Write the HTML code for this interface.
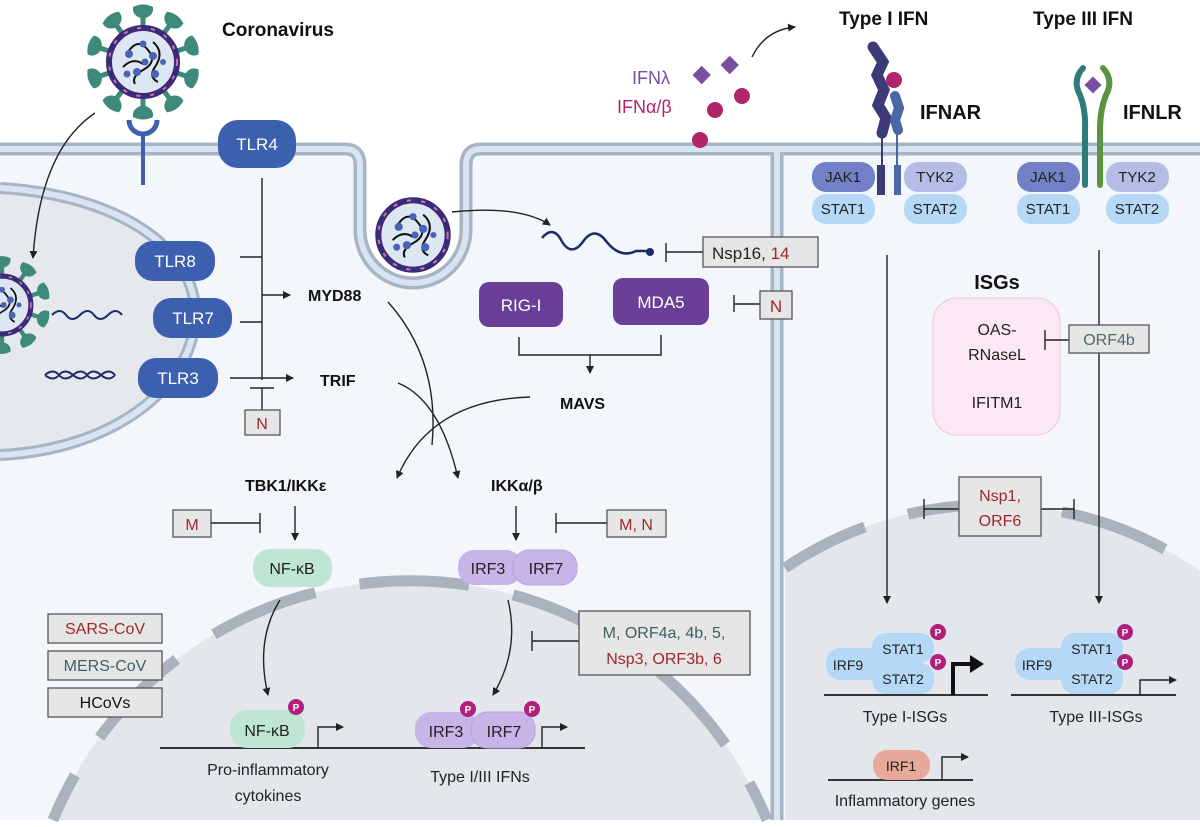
<!DOCTYPE html>
<html><head><meta charset="utf-8"><style>
html,body{margin:0;padding:0;background:#fff;overflow:hidden;width:1200px;height:827px}
svg{display:block;overflow:hidden}
text{font-family:"Liberation Sans",sans-serif}
.b{font-weight:bold;fill:#111}
.w{fill:#fff;font-size:17px}
.k{fill:#222;font-size:16px}
.red{fill:#a0282a}
.tl{fill:#3f6060}
.ln{stroke:#222;stroke-width:1.4;fill:none}
.bx{fill:#e6e6e6;stroke:#555;stroke-width:1.3}
</style></head><body>
<svg width="1200" height="827" viewBox="0 0 1200 827" xmlns="http://www.w3.org/2000/svg">
<defs>
<clipPath id="cp"><rect x="0" y="0" width="1200" height="827"/></clipPath>
<marker id="a" markerWidth="8" markerHeight="8" refX="7" refY="4" orient="auto" markerUnits="userSpaceOnUse"><path d="M0,0 L8,4 L0,8 Z" fill="#222"/></marker>
<path id="sp" d="M-2.5,0 L-2.5,-8 Q-11,-11 -10,-19 Q0,-24 10,-19 Q11,-11 2.5,-8 L2.5,0 Z" fill="#3e8a78"/>
<g id="core">
<circle r="34" fill="#dde7f2" stroke="#3b2a78" stroke-width="6"/>
<circle r="34" fill="none" stroke="#c678b0" stroke-width="2" stroke-dasharray="4 10"/>
<path d="M-15,-10 Q-5,-25 5,-12 Q15,0 0,8 Q-12,15 -8,22 M10,-20 Q22,-10 12,5 Q5,15 15,20 M-20,5 Q-10,-5 0,2" stroke="#111" stroke-width="2" fill="none"/>
<g fill="#4a62b8"><circle cx="-14" cy="-8" r="4"/><circle cx="-6" cy="10" r="4"/><circle cx="10" cy="-6" r="4"/><circle cx="12" cy="12" r="4"/><circle cx="-16" cy="12" r="3.5"/><circle cx="0" cy="-18" r="3.5"/><circle cx="2" cy="0" r="3.5"/><circle cx="20" cy="0" r="3"/></g>
</g>
<g id="vir">
<use href="#sp" transform="rotate(0) translate(0,-36)"/><use href="#sp" transform="rotate(36) translate(0,-36)"/><use href="#sp" transform="rotate(72) translate(0,-36)"/><use href="#sp" transform="rotate(108) translate(0,-36)"/><use href="#sp" transform="rotate(144) translate(0,-36)"/><use href="#sp" transform="rotate(180) translate(0,-36)"/><use href="#sp" transform="rotate(216) translate(0,-36)"/><use href="#sp" transform="rotate(252) translate(0,-36)"/><use href="#sp" transform="rotate(288) translate(0,-36)"/><use href="#sp" transform="rotate(324) translate(0,-36)"/>
<use href="#core"/>
</g>
</defs>
<g clip-path="url(#cp)">
<path d="M0,153 H360 V230 A53,53 0 0 0 466,230 V153 H1200 V820 H0 Z" fill="#f3f6fa"/>
<path d="M0,188 C120,195 200,250 195,320 C190,390 110,450 0,455 Z" fill="#e5e9ee"/>
<path d="M0,188 C120,195 200,250 195,320 C190,390 110,450 0,455" fill="none" stroke="#a9b4c2" stroke-width="12"/>
<path d="M0,188 C120,195 200,250 195,320 C190,390 110,450 0,455" fill="none" stroke="#d6e4f3" stroke-width="6"/>
<path d="M53,820 A386,386 0 0 1 767,820 Z" fill="#e3e6eb"/>
<path d="M53,820 A386,386 0 0 1 767,820" fill="none" stroke="#aab2bd" stroke-width="11" stroke-dasharray="110 45" stroke-dashoffset="60"/>
<path d="M785,820 V568 A365,365 0 0 1 1200,571 V820 Z" fill="#e3e6eb"/>
<path d="M785,568 A365,365 0 0 1 1200,571" fill="none" stroke="#aab2bd" stroke-width="11" stroke-dasharray="110 45" stroke-dashoffset="20"/>
<path d="M0,149 H345 Q360,149 360,165 V230 A53,53 0 0 0 466,230 V165 Q466,149 481,149 H1200 M777,149 V820" fill="none" stroke="#a9b4c2" stroke-width="13"/>
<path d="M0,149 H345 Q360,149 360,165 V230 A53,53 0 0 0 466,230 V165 Q466,149 481,149 H1200 M777,149 V820" fill="none" stroke="#d6e4f3" stroke-width="6"/>

<use href="#vir" transform="translate(143,62)"/>
<path d="M129,120 A14,14 0 0 0 157,120" fill="none" stroke="#3d5fb0" stroke-width="5"/>
<line x1="143" y1="134" x2="143" y2="185" stroke="#3d5fb0" stroke-width="4"/>
<use href="#vir" transform="translate(2,305) scale(0.85)"/>
<use href="#core" transform="translate(413,235) scale(1.02)"/>
<path d="M95,113 Q40,150 33,258" class="ln" marker-end="url(#a)"/>
<path d="M452,212 Q520,205 550,225" class="ln" marker-end="url(#a)"/>
<text x="222" y="36" class="b" font-size="19">Coronavirus</text>

<g font-size="17">
<rect x="218" y="120" width="78" height="48" rx="20" fill="#3d5fb0"/><text x="257" y="150" text-anchor="middle" class="w">TLR4</text>
<rect x="135" y="241" width="80" height="40" rx="18" fill="#3d5fb0"/><text x="175" y="267" text-anchor="middle" class="w">TLR8</text>
<rect x="153" y="298" width="79" height="40" rx="18" fill="#3d5fb0"/><text x="193" y="324" text-anchor="middle" class="w">TLR7</text>
<rect x="138" y="358" width="80" height="40" rx="18" fill="#3d5fb0"/><text x="178" y="384" text-anchor="middle" class="w">TLR3</text>
</g>
<path d="M52,315 q8,-8 14,0 t14,0 t14,0 t14,0 t14,0" fill="none" stroke="#1c2a6a" stroke-width="2"/>
<path d="M45,375 q8,-7 14,0 t14,0 t14,0 t14,0 t14,0 M45,375 q8,7 14,0 t14,0 t14,0 t14,0 t14,0" fill="none" stroke="#1c2a6a" stroke-width="2"/>
<line x1="262" y1="178" x2="262" y2="380" class="ln"/>
<line x1="240" y1="257" x2="262" y2="257" class="ln"/>
<line x1="240" y1="322" x2="262" y2="322" class="ln"/>
<line x1="262" y1="295" x2="290" y2="295" class="ln" marker-end="url(#a)"/>
<line x1="230" y1="378" x2="293" y2="378" class="ln" marker-end="url(#a)"/>
<line x1="250" y1="388" x2="274" y2="388" class="ln"/><line x1="262" y1="388" x2="262" y2="410" class="ln"/>
<rect x="245" y="410" width="35" height="25" class="bx"/><text x="262" y="429" text-anchor="middle" font-size="16" class="red">N</text>
<text x="308" y="301" class="b" font-size="16">MYD88</text>
<text x="320" y="386" class="b" font-size="16">TRIF</text>

<rect x="479" y="282" width="84" height="45" rx="10" fill="#6a3f98"/><text x="521" y="311" text-anchor="middle" class="w">RIG-I</text>
<rect x="613" y="278" width="96" height="47" rx="10" fill="#6a3f98"/><text x="661" y="308" text-anchor="middle" class="w">MDA5</text>
<path d="M519,337 V355 H661 V335" class="ln"/>
<line x1="590" y1="355" x2="590" y2="373" class="ln" marker-end="url(#a)"/>
<text x="560" y="409" class="b" font-size="16">MAVS</text>
<path d="M542,238 q10,-12 18,0 q10,20 22,5 q12,-18 24,-2 q14,18 30,10 q10,0 14,0" fill="none" stroke="#1c2a6a" stroke-width="2.5"/>
<circle cx="650" cy="252" r="4" fill="#1c2a6a"/>
<line x1="666" y1="243" x2="666" y2="262" class="ln"/><line x1="666" y1="252" x2="703" y2="252" class="ln"/>
<rect x="703" y="237" width="115" height="30" class="bx"/><text x="712" y="259" font-size="17" fill="#222">Nsp16, <tspan class="red">14</tspan></text>
<line x1="734" y1="295" x2="734" y2="312" class="ln"/><line x1="734" y1="304" x2="760" y2="304" class="ln"/>
<rect x="760" y="291" width="32" height="28" class="bx"/><text x="776" y="312" text-anchor="middle" font-size="17" class="red">N</text>

<path d="M388,302 Q440,360 432,445" class="ln"/>
<path d="M398,383 Q440,400 458,478" class="ln" marker-end="url(#a)"/>
<path d="M530,397 Q430,400 397,478" class="ln" marker-end="url(#a)"/>
<text x="245" y="491" class="b" font-size="16">TBK1/IKKε</text>
<text x="491" y="491" class="b" font-size="16">IKKα/β</text>
<rect x="173" y="510" width="38" height="27" class="bx"/><text x="192" y="530" text-anchor="middle" font-size="16" class="red">M</text>
<line x1="211" y1="523" x2="260" y2="523" class="ln"/><line x1="260" y1="513" x2="260" y2="533" class="ln"/>
<line x1="295" y1="506" x2="295" y2="540" class="ln" marker-end="url(#a)"/>
<line x1="516" y1="506" x2="516" y2="540" class="ln" marker-end="url(#a)"/>
<line x1="556" y1="513" x2="556" y2="533" class="ln"/><line x1="556" y1="523" x2="607" y2="523" class="ln"/>
<rect x="607" y="510" width="59" height="27" class="bx"/><text x="636" y="530" text-anchor="middle" font-size="16" class="red">M, N</text>

<rect x="253" y="549" width="79" height="38" rx="17" fill="#bfe6d5"/><text x="292" y="574" text-anchor="middle" class="k">NF-κB</text>
<rect x="458" y="550" width="64" height="35" rx="16" fill="#c9b4e8"/><rect x="513" y="550" width="64" height="35" rx="16" fill="#c9b4e8" stroke="#b9a2dc"/>
<text x="488" y="574" text-anchor="middle" class="k">IRF3</text><text x="546" y="574" text-anchor="middle" class="k">IRF7</text>
<path d="M280,600 Q255,640 268,695" class="ln" marker-end="url(#a)"/>
<path d="M508,600 Q520,650 493,695" class="ln" marker-end="url(#a)"/>

<g font-size="16">
<rect x="48" y="614" width="114" height="29" class="bx"/><text x="105" y="634" text-anchor="middle" class="red">SARS-CoV</text>
<rect x="48" y="651" width="114" height="29" class="bx"/><text x="105" y="671" text-anchor="middle" class="tl">MERS-CoV</text>
<rect x="48" y="688" width="114" height="29" class="bx"/><text x="105" y="708" text-anchor="middle" fill="#111">HCoVs</text>
</g>
<line x1="532" y1="631" x2="532" y2="651" class="ln"/><line x1="532" y1="641" x2="579" y2="641" class="ln"/>
<rect x="579" y="611" width="171" height="64" class="bx"/>
<text x="664" y="638" text-anchor="middle" font-size="16" class="tl">M, ORF4a, 4b, 5,</text>
<text x="664" y="664" text-anchor="middle" font-size="16" class="red">Nsp3, ORF3b, 6</text>

<line x1="160" y1="748" x2="585" y2="748" stroke="#333" stroke-width="2"/>
<rect x="230" y="710" width="75" height="38" rx="17" fill="#bfe6d5"/><text x="267" y="736" text-anchor="middle" class="k">NF-κB</text>
<path d="M318,748 V727 H343" class="ln" marker-end="url(#a)"/>
<rect x="415" y="712" width="64" height="36" rx="16" fill="#c9b4e8"/><rect x="471" y="712" width="64" height="36" rx="16" fill="#c9b4e8" stroke="#b9a2dc"/>
<text x="446" y="737" text-anchor="middle" class="k">IRF3</text><text x="504" y="737" text-anchor="middle" class="k">IRF7</text>
<path d="M542,748 V727 H567" class="ln" marker-end="url(#a)"/>
<g font-size="10" font-weight="bold">
<circle cx="296" cy="707" r="8" fill="#b0207a"/><text x="296" y="711" text-anchor="middle" fill="#fff">P</text>
<circle cx="468" cy="709" r="8" fill="#b0207a"/><text x="468" y="713" text-anchor="middle" fill="#fff">P</text>
<circle cx="532" cy="709" r="8" fill="#b0207a"/><text x="532" y="713" text-anchor="middle" fill="#fff">P</text>
</g>
<text x="268" y="775" text-anchor="middle" class="k">Pro-inflammatory</text>
<text x="268" y="801" text-anchor="middle" class="k">cytokines</text>
<text x="480" y="782" text-anchor="middle" class="k">Type I/III IFNs</text>

<text x="632" y="84" font-size="18" fill="#7a4fa0">IFNλ</text>
<text x="617" y="113" font-size="18" fill="#b0246a">IFNα/β</text>
<rect x="695" y="68" width="13" height="13" fill="#7a4fa0" transform="rotate(45 701 75)"/>
<rect x="723" y="58" width="13" height="13" fill="#7a4fa0" transform="rotate(45 729 65)"/>
<circle cx="742" cy="96" r="8" fill="#b0246a"/><circle cx="715" cy="110" r="8" fill="#b0246a"/><circle cx="700" cy="140" r="8" fill="#b0246a"/>
<path d="M752,57 Q765,30 795,27" class="ln" marker-end="url(#a)"/>
<text x="839" y="25" class="b" font-size="19">Type I IFN</text>
<text x="1033" y="25" class="b" font-size="19">Type III IFN</text>
<text x="920" y="119" class="b" font-size="20">IFNAR</text>
<text x="1123" y="119" class="b" font-size="20">IFNLR</text>

<path d="M873,47 L883,62 L877,75 L884,90 L878,105 L886,118 L882,133" fill="none" stroke="#3d3a78" stroke-width="11" stroke-linecap="round"/>
<path d="M895,96 L899,108 L895,120 L898,130" fill="none" stroke="#4a67a8" stroke-width="10" stroke-linecap="round"/>
<line x1="882" y1="133" x2="882" y2="165" stroke="#3d3a78" stroke-width="2"/>
<line x1="897" y1="130" x2="897" y2="165" stroke="#4a67a8" stroke-width="2"/>
<rect x="877" y="165" width="8" height="30" fill="#3d3a78"/><rect x="894" y="165" width="7" height="30" fill="#4a67a8"/>
<circle cx="894" cy="80" r="8" fill="#b0246a"/>
<path d="M1083,68 Q1072,80 1080,95 Q1086,110 1085,130 V185" fill="none" stroke="#2f7a7a" stroke-width="6" stroke-linecap="round"/>
<path d="M1103,68 Q1114,80 1106,95 Q1100,110 1100,130 V185" fill="none" stroke="#5a9440" stroke-width="6" stroke-linecap="round"/>
<rect x="1087" y="79" width="12" height="12" fill="#7a4fa0" transform="rotate(45 1093 85)"/>

<g font-size="15">
<rect x="812" y="162" width="63" height="30" rx="14" fill="#7280c8"/><text x="843" y="182" text-anchor="middle" fill="#222">JAK1</text>
<rect x="904" y="162" width="63" height="30" rx="14" fill="#b5bde6"/><text x="935" y="182" text-anchor="middle" fill="#222">TYK2</text>
<rect x="812" y="194" width="63" height="30" rx="14" fill="#b4d8f5"/><text x="843" y="214" text-anchor="middle" fill="#222">STAT1</text>
<rect x="904" y="194" width="63" height="30" rx="14" fill="#b4d8f5"/><text x="935" y="214" text-anchor="middle" fill="#222">STAT2</text>
<rect x="1017" y="162" width="63" height="30" rx="14" fill="#7280c8"/><text x="1048" y="182" text-anchor="middle" fill="#222">JAK1</text>
<rect x="1106" y="162" width="63" height="30" rx="14" fill="#b5bde6"/><text x="1137" y="182" text-anchor="middle" fill="#222">TYK2</text>
<rect x="1017" y="194" width="63" height="30" rx="14" fill="#b4d8f5"/><text x="1048" y="214" text-anchor="middle" fill="#222">STAT1</text>
<rect x="1106" y="194" width="63" height="30" rx="14" fill="#b4d8f5"/><text x="1137" y="214" text-anchor="middle" fill="#222">STAT2</text>
</g>

<line x1="887" y1="255" x2="887" y2="603" class="ln" marker-end="url(#a)"/>
<line x1="1099" y1="250" x2="1099" y2="603" class="ln" marker-end="url(#a)"/>
<text x="997" y="289" text-anchor="middle" class="b" font-size="20">ISGs</text>
<rect x="933" y="298" width="127" height="137" rx="24" fill="#fbe8f2" stroke="#efc6dd"/>
<text x="997" y="335" text-anchor="middle" class="k">OAS-</text>
<text x="997" y="360" text-anchor="middle" class="k">RNaseL</text>
<text x="997" y="408" text-anchor="middle" class="k">IFITM1</text>
<line x1="1045" y1="330" x2="1045" y2="350" class="ln"/><line x1="1045" y1="340" x2="1069" y2="340" class="ln"/>
<rect x="1069" y="325" width="80" height="28" class="bx"/><text x="1109" y="345" text-anchor="middle" font-size="16" fill="#4f6a6a">ORF4b</text>
<line x1="924" y1="499" x2="924" y2="519" class="ln"/><line x1="924" y1="509" x2="959" y2="509" class="ln"/>
<line x1="1074" y1="499" x2="1074" y2="519" class="ln"/><line x1="1041" y1="509" x2="1074" y2="509" class="ln"/>
<rect x="959" y="477" width="82" height="59" class="bx"/>
<text x="1000" y="501" text-anchor="middle" font-size="16" class="red">Nsp1,</text>
<text x="1000" y="526" text-anchor="middle" font-size="16" class="red">ORF6</text>

<line x1="824" y1="695" x2="988" y2="695" stroke="#333" stroke-width="2"/>
<rect x="826" y="648" width="56" height="32" rx="15" fill="#b4d8f5"/><text x="848" y="670" text-anchor="middle" font-size="14" fill="#222">IRF9</text>
<rect x="872" y="633" width="62" height="30" rx="14" fill="#b4d8f5"/><text x="903" y="654" text-anchor="middle" font-size="14" fill="#222">STAT1</text>
<rect x="872" y="663" width="62" height="31" rx="14" fill="#b4d8f5"/><text x="903" y="684" text-anchor="middle" font-size="14" fill="#222">STAT2</text>
<path d="M953,695 V664 H972" fill="none" stroke="#111" stroke-width="4"/><path d="M970,655 L984,664 L970,673 Z" fill="#111"/>
<line x1="1011" y1="695" x2="1176" y2="695" stroke="#333" stroke-width="2"/>
<rect x="1015" y="648" width="56" height="32" rx="15" fill="#b4d8f5"/><text x="1037" y="670" text-anchor="middle" font-size="14" fill="#222">IRF9</text>
<rect x="1061" y="633" width="62" height="30" rx="14" fill="#b4d8f5"/><text x="1092" y="654" text-anchor="middle" font-size="14" fill="#222">STAT1</text>
<rect x="1061" y="663" width="62" height="31" rx="14" fill="#b4d8f5"/><text x="1092" y="684" text-anchor="middle" font-size="14" fill="#222">STAT2</text>
<path d="M1140,695 V680 H1176" class="ln" marker-end="url(#a)"/>
<g font-size="10" font-weight="bold">
<circle cx="938" cy="632" r="8" fill="#b0207a"/><text x="938" y="636" text-anchor="middle" fill="#fff">P</text>
<circle cx="938" cy="662" r="8" fill="#b0207a"/><text x="938" y="666" text-anchor="middle" fill="#fff">P</text>
<circle cx="1125" cy="632" r="8" fill="#b0207a"/><text x="1125" y="636" text-anchor="middle" fill="#fff">P</text>
<circle cx="1125" cy="662" r="8" fill="#b0207a"/><text x="1125" y="666" text-anchor="middle" fill="#fff">P</text>
</g>
<text x="905" y="722" text-anchor="middle" class="k">Type I-ISGs</text>
<text x="1096" y="722" text-anchor="middle" class="k">Type III-ISGs</text>
<line x1="828" y1="780" x2="973" y2="780" stroke="#333" stroke-width="2"/>
<rect x="873" y="750" width="57" height="30" rx="14" fill="#e8a89a"/><text x="901" y="771" text-anchor="middle" font-size="14" fill="#222">IRF1</text>
<path d="M942,780 V757 H968" class="ln" marker-end="url(#a)"/>
<text x="905" y="806" text-anchor="middle" class="k">Inflammatory genes</text>
</g>
</svg>
</body></html>
